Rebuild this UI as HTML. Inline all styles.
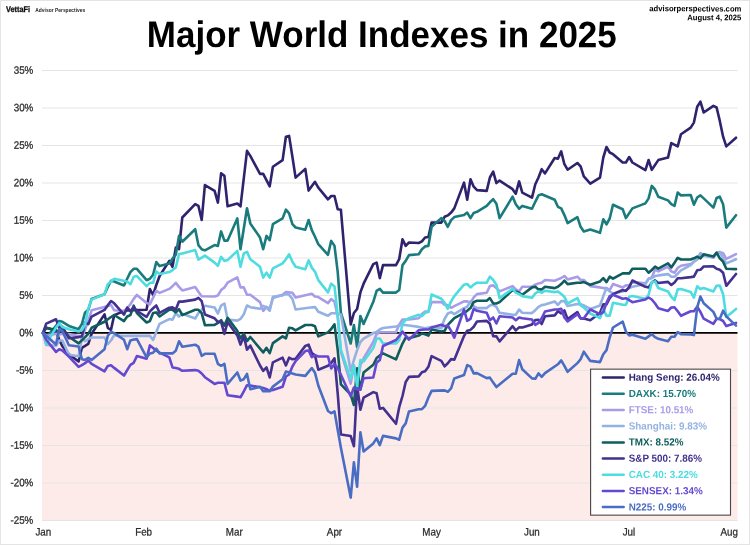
<!DOCTYPE html>
<html lang="en">
<head>
<meta charset="utf-8">
<title>Major World Indexes in 2025</title>
<style>
html,body{margin:0;padding:0;background:#fff;}
body{width:750px;height:545px;overflow:hidden;position:relative;font-family:"Liberation Sans",sans-serif;}
#chart{position:absolute;left:0;top:0;width:750px;height:545px;display:block;}
.frame{position:absolute;left:0;top:0;width:748px;height:543px;border:1px solid #e4e4e4;pointer-events:none;}
text{font-family:"Liberation Sans",sans-serif;}
.title{font-size:35.0px;font-weight:bold;fill:#000;}
.tick{font-size:9.8px;fill:#2b2b2b;stroke:#2b2b2b;stroke-width:0.25px;}
.leg{font-size:9.87px;font-weight:bold;}
.src{font-size:7.68px;font-weight:bold;fill:#000;}
.logo{font-size:8.2px;font-weight:bold;fill:#111;stroke:#111;stroke-width:0.3px;}
.logo2{font-size:5.8px;font-weight:bold;fill:#2a2a2a;}
.ln{fill:none;stroke-width:2.6;stroke-linejoin:round;stroke-linecap:round;}
</style>
</head>
<body>
<svg id="chart" width="750" height="545" viewBox="0 0 750 545">
<rect x="0" y="0" width="750" height="545" fill="#ffffff"/>
<rect x="42.0" y="333.0" width="695.5" height="187.8" fill="#fdebea"/>
<line x1="42.0" y1="70.5" x2="737.5" y2="70.5" stroke="#e5e5e5" stroke-width="1"/>
<line x1="42.0" y1="108.0" x2="737.5" y2="108.0" stroke="#e5e5e5" stroke-width="1"/>
<line x1="42.0" y1="145.5" x2="737.5" y2="145.5" stroke="#e5e5e5" stroke-width="1"/>
<line x1="42.0" y1="183.0" x2="737.5" y2="183.0" stroke="#e5e5e5" stroke-width="1"/>
<line x1="42.0" y1="220.5" x2="737.5" y2="220.5" stroke="#e5e5e5" stroke-width="1"/>
<line x1="42.0" y1="258.0" x2="737.5" y2="258.0" stroke="#e5e5e5" stroke-width="1"/>
<line x1="42.0" y1="295.5" x2="737.5" y2="295.5" stroke="#e5e5e5" stroke-width="1"/>
<line x1="42.0" y1="370.5" x2="737.5" y2="370.5" stroke="#e5e5e5" stroke-width="1"/>
<line x1="42.0" y1="408.0" x2="737.5" y2="408.0" stroke="#e5e5e5" stroke-width="1"/>
<line x1="42.0" y1="445.5" x2="737.5" y2="445.5" stroke="#e5e5e5" stroke-width="1"/>
<line x1="42.0" y1="483.0" x2="737.5" y2="483.0" stroke="#e5e5e5" stroke-width="1"/>
<line x1="42.0" y1="520.5" x2="737.5" y2="520.5" stroke="#e5e5e5" stroke-width="1"/>
<line x1="42.0" y1="332.85" x2="737.5" y2="332.85" stroke="#000" stroke-width="1.7"/>
<polyline class="ln" stroke="#2f236d" points="43.0,333.0 46.2,327.7 56.0,330.8 59.2,339.8 62.4,346.1 68.9,354.4 78.6,361.5 81.9,347.8 88.3,343.8 91.6,333.8 104.5,314.4 107.8,327.8 111.0,329.8 114.2,315.1 124.0,311.1 127.2,310.4 146.6,309.8 149.9,289.0 153.1,295.0 156.3,285.0 159.6,276.0 169.3,260.9 172.5,266.8 175.8,247.6 179.0,249.2 182.3,217.5 195.2,204.2 198.4,205.8 201.7,220.0 204.9,185.1 214.6,190.9 217.9,202.6 221.1,173.4 224.4,175.9 227.6,206.3 237.3,203.5 240.5,206.3 247.0,150.9 250.3,155.9 260.0,173.9 263.2,173.9 269.7,186.3 272.9,166.7 282.6,160.1 285.9,136.7 289.1,135.9 292.4,156.7 295.6,177.6 305.3,168.9 308.6,190.6 315.0,181.8 318.3,187.6 328.0,199.3 331.2,196.0 334.5,196.0 337.7,209.3 340.9,209.8 350.7,324.5 353.9,313.0 357.1,309.0 360.4,292.4 363.6,283.7 373.3,264.2 376.6,262.6 379.8,278.1 383.0,265.1 396.0,265.1 399.2,259.2 402.5,239.2 405.7,245.9 409.0,242.5 418.7,243.0 421.9,241.4 425.1,237.5 428.4,237.0 431.6,222.6 441.3,222.6 444.6,216.8 447.8,215.4 451.1,212.6 454.3,208.4 464.0,182.6 467.2,199.7 470.5,179.2 473.7,186.7 477.0,190.1 486.7,190.9 489.9,177.5 493.2,171.7 496.4,183.1 499.6,180.6 512.6,189.2 515.8,193.7 519.1,181.4 522.3,192.6 532.0,197.6 535.3,184.2 538.5,177.5 541.7,169.2 545.0,173.4 554.7,158.0 557.9,158.7 561.2,151.4 564.4,164.2 567.6,169.7 577.4,163.0 580.6,166.4 583.8,176.4 590.3,183.7 600.0,177.6 603.3,157.5 606.5,147.0 609.7,152.5 613.0,154.2 622.7,162.5 625.9,162.5 629.2,157.0 632.4,162.5 645.4,170.1 648.6,160.0 651.8,169.8 658.3,160.1 668.0,157.6 671.3,143.1 677.7,146.4 681.0,134.2 690.7,127.6 693.9,122.6 697.2,106.7 700.4,101.7 703.7,112.5 713.4,105.9 716.6,107.5 719.8,120.9 723.1,136.7 726.3,146.4 736.0,137.7"/>
<polyline class="ln" stroke="#1a7b7d" points="43.0,333.0 46.2,337.5 56.0,325.9 59.2,321.0 62.4,321.8 68.9,325.9 78.6,329.2 81.9,324.0 85.1,312.4 88.3,309.8 91.6,298.9 104.5,294.2 107.8,286.9 111.0,280.8 114.2,281.5 124.0,285.5 127.2,278.8 130.4,272.1 133.7,268.8 136.9,268.8 146.6,280.2 149.9,278.8 153.1,274.8 156.3,262.1 159.6,266.1 169.3,263.4 172.5,258.7 175.8,254.7 179.0,235.9 182.3,241.7 195.2,229.2 198.4,245.1 201.7,249.2 204.9,250.4 214.6,245.1 217.9,245.9 221.1,231.4 224.4,240.6 227.6,240.6 237.3,218.4 240.5,249.2 247.0,208.3 250.3,223.4 260.0,237.6 263.2,249.2 266.5,235.9 269.7,240.1 272.9,224.2 282.6,218.4 285.9,209.7 289.1,213.4 292.4,224.2 295.6,227.5 305.3,229.7 308.6,220.0 311.8,230.1 315.0,236.7 318.3,244.2 328.0,254.8 331.2,240.9 334.5,245.9 337.7,271.8 340.9,313.0 350.7,343.5 353.9,325.0 357.1,347.0 360.4,316.0 363.6,324.0 373.3,301.8 376.6,290.9 379.8,288.8 383.0,292.6 396.0,292.6 399.2,290.1 402.5,265.1 405.7,260.9 409.0,255.1 418.7,254.2 421.9,249.2 425.1,246.4 428.4,245.9 431.6,226.7 441.3,218.1 444.6,221.0 447.8,226.8 451.1,220.1 454.3,217.1 464.0,215.1 467.2,212.6 470.5,218.1 473.7,212.9 477.0,211.8 486.7,205.9 489.9,202.3 493.2,199.2 496.4,203.8 499.6,218.1 512.6,196.7 515.8,204.3 519.1,208.8 522.3,205.9 532.0,208.8 535.3,201.8 538.5,195.4 541.7,194.2 554.7,199.8 557.9,206.8 561.2,208.4 564.4,215.1 567.6,223.1 577.4,217.1 580.6,226.8 583.8,231.5 590.3,229.6 600.0,232.8 603.3,219.3 606.5,224.3 609.7,218.5 613.0,204.8 622.7,209.3 625.9,218.1 632.4,208.4 645.4,203.4 648.6,198.4 651.8,185.9 655.1,189.7 658.3,196.7 668.0,200.4 671.3,204.2 674.5,205.9 677.7,192.5 681.0,195.4 690.7,195.0 693.9,204.7 697.2,197.5 700.4,195.4 703.7,198.4 713.4,207.6 716.6,198.0 719.8,196.7 723.1,204.2 726.3,227.6 736.0,215.2"/>
<polyline class="ln" stroke="#a99bea" points="43.0,333.0 46.2,336.0 56.0,333.8 59.2,334.5 62.4,333.8 68.9,334.1 78.6,336.0 81.9,338.3 85.1,329.2 88.3,321.0 91.6,310.3 104.5,306.9 107.8,306.3 111.0,304.9 114.2,310.3 124.0,311.0 127.2,308.3 130.4,304.3 133.7,298.9 136.9,294.9 146.6,302.9 149.9,304.3 153.1,297.6 156.3,290.9 159.6,292.9 169.3,288.9 172.5,286.2 175.8,282.8 179.0,286.9 182.3,290.4 195.2,287.0 198.4,291.7 201.7,296.2 214.6,296.5 217.9,295.4 221.1,290.1 224.4,287.4 227.6,282.7 237.3,277.4 240.5,287.4 243.8,287.4 247.0,294.8 250.3,294.8 260.0,302.1 263.2,310.8 266.5,306.8 269.7,308.8 272.9,298.1 282.6,294.8 285.9,292.1 292.4,292.8 295.6,297.4 311.8,293.7 315.0,296.4 318.3,297.1 328.0,303.1 331.2,299.1 334.5,301.8 337.7,316.5 340.9,351.8 350.7,383.6 353.9,365.2 357.1,385.5 360.4,365.2 363.6,358.5 373.3,342.0 376.6,334.1 379.8,332.2 383.0,332.2 396.0,332.2 399.2,324.8 402.5,319.5 405.7,319.5 409.0,319.5 418.7,318.2 421.9,314.1 425.1,311.5 428.4,311.5 431.6,302.1 441.3,302.1 444.6,304.8 447.8,305.4 451.1,307.8 454.3,306.1 464.0,301.4 467.2,301.4 470.5,302.8 473.7,297.4 477.0,294.1 486.7,292.7 489.9,286.0 493.2,285.4 496.4,288.0 499.6,291.4 512.6,286.1 515.8,289.4 519.1,291.4 522.3,286.7 532.0,286.7 535.3,284.7 538.5,283.4 541.7,282.7 545.0,280.0 554.7,280.7 557.9,279.4 561.2,278.0 564.4,276.0 567.6,279.4 577.4,276.7 580.6,280.0 583.8,280.0 590.3,286.1 600.0,287.4 603.3,288.1 606.5,288.1 609.7,290.1 613.0,284.1 622.7,287.4 625.9,285.4 629.2,285.4 632.4,282.1 645.4,283.4 648.6,278.7 651.8,277.4 655.1,269.4 658.3,271.4 668.0,266.7 671.3,271.4 674.5,272.7 677.7,268.0 681.0,265.7 690.7,264.0 693.9,261.7 697.2,259.5 700.4,253.2 703.7,254.9 713.4,257.8 716.6,253.2 719.8,252.1 723.1,253.2 726.3,258.9 736.0,254.2"/>
<polyline class="ln" stroke="#93b2e3" points="43.0,333.0 46.2,345.0 56.0,345.8 59.2,340.5 62.4,340.5 68.9,354.8 78.6,356.2 81.9,338.3 85.1,341.2 88.3,339.0 91.6,337.5 104.5,337.5 107.8,344.2 111.0,340.5 114.2,335.2 124.0,336.0 127.2,335.9 149.9,335.9 153.1,339.9 156.3,331.9 159.6,323.8 169.3,319.1 172.5,319.8 175.8,313.1 179.0,316.5 182.3,313.8 195.2,318.5 198.4,313.1 201.7,309.8 204.9,305.7 214.6,307.5 217.9,313.5 221.1,305.5 224.4,303.5 227.6,319.5 237.3,320.6 240.5,318.9 243.8,314.2 247.0,305.5 250.3,307.2 260.0,308.8 263.2,305.9 266.5,307.5 269.7,310.8 272.9,296.8 282.6,295.4 285.9,294.1 289.1,294.8 292.4,298.8 295.6,309.5 308.6,307.8 315.0,307.1 318.3,311.8 328.0,315.8 331.2,313.2 334.5,313.2 337.7,313.8 340.9,314.5 350.7,371.2 353.9,360.0 357.1,350.2 360.4,342.0 363.6,338.6 373.3,333.0 376.6,331.9 379.8,329.5 383.0,328.0 396.0,326.5 399.2,325.5 402.5,324.8 409.0,325.5 418.7,326.9 425.1,328.2 431.6,326.9 441.3,328.2 444.6,318.8 447.8,313.5 451.1,312.1 454.3,314.1 464.0,308.1 467.2,306.8 470.5,301.4 473.7,306.1 477.0,308.1 486.7,308.1 489.9,305.4 493.2,304.8 496.4,306.8 499.6,312.8 512.6,314.8 515.8,314.8 519.1,309.5 522.3,312.8 532.0,313.1 535.3,310.2 538.5,306.8 541.7,305.1 545.0,304.5 554.7,301.5 557.9,304.8 561.2,301.1 564.4,301.1 567.6,306.1 577.4,304.1 580.6,304.1 583.8,305.5 590.3,308.9 600.0,305.5 603.3,296.1 606.5,288.1 609.7,291.5 613.0,293.5 622.7,291.5 625.9,290.1 629.2,288.1 632.4,286.8 645.4,284.1 648.6,278.7 651.8,278.1 655.1,276.1 658.3,275.4 668.0,274.1 671.3,276.7 674.5,276.7 677.7,273.7 681.0,270.3 690.7,265.1 693.9,261.7 697.2,259.5 700.4,254.3 703.7,256.0 713.4,256.6 716.6,253.2 719.8,252.1 723.1,258.3 726.3,263.4 736.0,259.3"/>
<polyline class="ln" stroke="#0f5d5d" points="43.0,333.0 46.2,327.7 56.0,330.0 59.2,332.2 62.4,328.5 68.9,336.8 78.6,343.4 85.1,337.1 88.3,333.8 91.6,327.8 104.5,321.7 111.0,317.0 114.2,315.0 124.0,321.1 127.2,316.5 130.4,315.1 133.7,305.7 136.9,313.1 146.6,322.5 149.9,321.1 153.1,313.1 156.3,312.4 159.6,316.5 169.3,309.8 172.5,309.8 175.8,312.4 179.0,309.1 182.3,315.1 195.2,309.8 198.4,309.8 201.7,313.1 204.9,325.2 214.6,324.9 217.9,322.9 221.1,320.2 224.4,325.6 227.6,317.9 237.3,330.9 240.5,338.4 243.8,333.7 247.0,341.1 250.3,337.0 263.2,352.4 266.5,347.8 269.7,353.1 272.9,343.1 282.6,336.4 285.9,338.4 289.1,327.7 292.4,328.3 295.6,330.4 305.3,325.0 311.8,325.0 315.0,326.3 318.3,336.4 328.0,332.4 331.2,329.0 334.5,324.3 337.7,349.9 340.9,384.4 350.7,394.5 353.9,405.0 357.1,368.2 360.4,389.6 363.6,372.4 373.3,364.8 376.6,358.1 379.8,355.4 383.0,353.4 396.0,359.4 399.2,351.4 402.5,343.6 405.7,337.6 409.0,338.2 418.7,335.6 421.9,333.5 425.1,334.2 428.4,335.6 431.6,329.5 441.3,331.5 444.6,330.9 447.8,324.8 451.1,321.5 454.3,318.2 464.0,312.8 467.2,310.8 470.5,308.1 473.7,302.1 477.0,300.7 486.7,300.7 489.9,298.1 493.2,303.4 496.4,303.5 499.6,302.1 512.6,290.1 515.8,291.4 519.1,292.8 522.3,294.8 532.0,287.4 535.3,286.7 538.5,289.4 541.7,289.4 545.0,286.7 554.7,288.1 557.9,286.7 561.2,284.1 564.4,280.7 567.6,284.1 577.4,282.7 580.6,282.8 583.8,282.1 590.3,284.8 600.0,281.4 603.3,278.1 606.5,282.1 609.7,276.7 613.0,278.7 622.7,273.4 625.9,273.4 629.2,273.4 632.4,268.7 645.4,268.7 648.6,272.7 651.8,270.0 655.1,266.7 658.3,268.7 668.0,263.3 671.3,267.4 674.5,262.7 677.7,257.8 681.0,259.5 690.7,259.5 693.9,258.3 697.2,256.6 700.4,258.3 703.7,254.3 713.4,256.6 716.6,252.6 719.8,258.3 723.1,261.7 726.3,268.8 736.0,269.1"/>
<polyline class="ln" stroke="#43308f" points="43.0,333.0 46.2,323.6 56.0,319.3 59.2,327.8 62.4,326.6 68.9,338.3 78.6,337.1 81.9,336.3 85.1,322.6 88.3,324.2 91.6,316.6 104.5,309.9 107.8,305.2 111.0,301.0 114.2,303.3 124.0,314.6 127.2,307.5 130.4,311.2 133.7,307.1 136.9,311.0 146.6,316.9 149.9,311.4 153.1,308.3 156.3,305.5 159.6,312.9 169.3,307.7 172.5,307.4 175.8,309.6 179.0,301.5 182.3,301.6 195.2,299.6 198.4,297.8 201.7,301.2 204.9,314.5 214.6,318.3 217.9,321.9 221.1,321.8 224.4,333.9 227.6,322.0 237.3,335.4 240.5,344.6 243.8,336.3 247.0,349.6 250.3,345.6 260.0,365.5 263.2,370.9 266.5,367.4 269.7,377.4 272.9,362.3 282.6,357.7 285.9,365.4 289.1,357.7 292.4,359.3 295.6,358.7 305.3,345.9 308.6,344.7 311.8,353.0 315.0,355.4 318.3,369.8 328.0,365.8 331.2,363.1 334.5,358.3 337.7,393.3 340.9,434.5 350.7,436.0 353.9,446.2 357.1,385.6 360.4,409.7 363.6,397.6 373.3,392.1 376.6,393.3 379.8,408.8 383.0,407.9 396.0,423.8 399.2,407.2 402.5,396.0 405.7,382.0 409.0,376.9 418.7,376.4 421.9,372.3 425.1,371.3 428.4,366.8 431.6,356.2 441.3,360.9 444.6,366.4 447.8,363.3 451.1,359.1 454.3,359.7 464.0,336.1 467.2,330.7 470.5,329.9 473.7,326.8 477.0,321.5 486.7,320.9 489.9,323.8 493.2,336.1 496.4,336.4 499.6,341.4 512.6,326.2 515.8,330.4 519.1,327.4 522.3,327.5 532.0,324.4 535.3,320.0 538.5,319.9 541.7,324.0 545.0,316.2 554.7,315.4 557.9,311.2 561.2,313.4 564.4,310.4 567.6,319.1 577.4,312.0 580.6,318.4 583.8,318.6 590.3,320.3 600.0,313.0 603.3,304.4 606.5,304.4 609.7,298.2 613.0,294.1 622.7,290.0 625.9,290.9 629.2,287.1 632.4,280.5 645.4,286.8 648.6,287.4 651.8,282.6 655.1,280.4 658.3,283.0 668.0,281.9 671.3,285.0 674.5,282.5 677.7,278.2 681.0,278.3 690.7,277.1 693.9,276.6 697.2,270.3 700.4,269.8 703.7,266.5 713.4,266.4 716.6,268.8 719.8,269.8 723.1,272.8 726.3,285.8 736.0,274.0"/>
<polyline class="ln" stroke="#4edce0" points="43.0,333.0 46.2,344.2 56.0,327.7 59.2,323.2 62.4,327.0 68.9,329.2 78.6,331.5 81.9,330.0 85.1,324.8 88.3,308.6 91.6,299.6 104.5,294.2 107.8,284.2 114.2,278.8 127.2,281.5 130.4,284.2 133.7,276.8 136.9,276.1 146.6,286.2 149.9,282.8 153.1,282.8 156.3,271.5 159.6,274.1 169.3,272.1 172.5,270.1 175.8,267.4 179.0,254.3 182.3,253.4 195.2,250.1 198.4,259.6 201.7,257.6 204.9,255.6 214.6,262.6 217.9,265.9 221.1,256.8 224.4,260.9 227.6,260.1 237.3,250.9 240.5,266.8 243.8,253.4 247.0,251.8 250.3,259.3 260.0,266.8 263.2,277.6 266.5,272.6 269.7,277.6 272.9,268.4 282.6,263.4 285.9,259.3 289.1,254.3 292.4,261.8 295.6,266.8 305.3,269.3 308.6,260.4 311.8,267.6 315.0,271.8 318.3,280.1 328.0,292.4 331.2,283.7 334.5,286.4 337.7,315.2 340.9,350.0 350.7,378.8 353.9,365.4 357.1,386.2 360.4,360.1 363.6,361.4 373.3,348.0 376.6,338.5 379.8,338.5 383.0,343.5 396.0,343.5 399.2,340.2 402.5,323.5 405.7,320.2 409.0,318.2 418.7,314.8 421.9,316.1 425.1,312.8 428.4,312.1 431.6,294.5 441.3,298.7 444.6,302.8 447.8,308.8 451.1,301.4 454.3,296.1 464.0,284.7 467.2,284.0 470.5,287.4 473.7,284.7 477.0,282.7 486.7,282.7 489.9,276.7 493.2,280.0 496.4,284.7 499.6,298.1 512.6,288.7 515.8,292.8 519.1,294.1 522.3,296.1 532.0,297.8 535.3,293.4 538.5,291.4 541.7,292.8 545.0,290.7 554.7,292.1 557.9,291.4 561.2,294.1 564.4,296.8 567.6,303.5 577.4,298.1 580.6,305.5 583.8,307.5 590.3,313.5 600.0,318.2 603.3,309.5 606.5,315.6 609.7,315.6 613.0,302.8 622.7,304.8 625.9,304.8 629.2,296.8 632.4,296.1 645.4,298.8 648.6,294.8 651.8,282.1 655.1,281.4 658.3,288.1 668.0,291.5 671.3,296.8 674.5,300.2 677.7,289.3 681.0,289.1 690.7,291.9 693.9,297.6 697.2,286.3 700.4,289.1 703.7,288.0 713.4,291.4 716.6,285.7 719.8,285.5 723.1,294.2 726.3,317.0 736.0,308.9"/>
<polyline class="ln" stroke="#6448d0" points="43.0,333.0 46.2,339.8 56.0,351.9 59.2,349.2 62.4,350.5 68.9,356.5 78.6,366.8 81.9,365.2 85.1,363.2 88.3,360.6 91.6,363.9 104.5,371.3 107.8,365.9 111.0,365.2 114.2,367.9 124.0,375.5 127.2,370.1 130.4,364.8 133.7,362.8 136.9,356.1 146.6,358.7 149.9,345.4 153.1,348.0 156.3,350.7 159.6,352.7 169.3,357.4 172.5,367.4 175.8,368.1 179.0,368.8 182.3,370.8 195.2,370.1 198.4,370.8 201.7,373.5 204.9,377.2 214.6,383.9 217.9,382.8 221.1,382.8 224.4,382.8 227.6,395.3 237.3,396.6 240.5,397.3 243.8,391.3 247.0,385.2 250.3,385.5 260.0,387.2 263.2,387.9 266.5,389.3 269.7,390.6 272.9,389.9 282.6,386.8 285.9,376.5 289.1,374.5 292.4,366.5 295.6,361.1 305.3,351.1 308.6,350.4 311.8,357.1 315.0,355.1 318.3,356.5 328.0,356.5 331.2,368.5 334.5,364.1 337.7,368.1 340.9,374.8 350.7,396.2 353.9,387.5 357.1,389.5 360.4,389.5 363.6,378.2 373.3,377.5 376.6,362.8 379.8,360.1 383.0,346.0 396.0,340.0 399.2,336.2 402.5,331.5 405.7,335.6 409.0,339.6 418.7,330.2 421.9,329.8 425.1,329.5 428.4,329.5 431.6,327.5 441.3,324.8 444.6,326.2 447.8,325.5 451.1,330.9 454.3,337.6 464.0,309.5 467.2,320.8 470.5,318.8 473.7,308.8 477.0,310.8 486.7,312.8 489.9,320.2 493.2,317.5 496.4,323.5 499.6,316.2 512.6,317.5 515.8,320.2 519.1,317.5 522.3,318.2 532.0,319.5 535.3,324.9 538.5,322.9 541.7,318.2 545.0,311.5 554.7,309.5 557.9,309.5 561.2,308.8 564.4,317.5 567.6,321.5 577.4,314.2 580.6,318.2 583.8,318.2 590.3,309.5 600.0,314.2 603.3,312.2 606.5,302.8 609.7,296.1 613.0,294.8 622.7,298.8 625.9,298.2 629.2,300.2 632.4,302.2 645.4,299.5 648.6,297.5 651.8,299.5 655.1,303.5 658.3,308.2 668.0,310.9 671.3,307.5 674.5,307.3 677.7,311.3 681.0,315.8 690.7,311.3 693.9,311.3 697.2,306.7 700.4,311.9 703.7,318.7 713.4,323.8 716.6,318.7 719.8,319.2 723.1,321.0 726.3,326.1 736.0,322.9"/>
<polyline class="ln" stroke="#4a6dc4" points="43.0,333.0 56.0,344.5 59.2,329.1 62.4,331.1 68.9,345.2 78.6,346.5 81.9,359.2 85.1,359.9 88.3,357.9 91.6,359.9 104.5,349.2 107.8,335.8 111.0,331.8 114.2,333.1 124.0,339.8 127.2,349.2 130.4,340.5 133.7,339.5 136.9,339.1 146.6,357.4 149.9,353.4 153.1,352.7 156.3,348.7 159.6,353.4 169.3,353.4 172.5,353.4 175.8,350.7 179.0,341.3 182.3,346.7 195.2,344.7 198.4,346.7 201.7,355.8 204.9,353.8 214.6,353.8 217.9,363.8 221.1,365.8 224.4,363.8 227.6,383.9 237.3,372.5 240.5,380.6 243.8,379.2 247.0,373.9 250.3,389.3 260.0,386.8 263.2,391.3 266.5,391.3 269.7,391.3 272.9,386.6 282.6,379.2 285.9,371.6 289.1,372.5 292.4,373.5 295.6,374.5 305.3,375.9 308.6,371.9 311.8,368.1 315.0,372.8 318.3,385.5 328.0,411.0 331.2,413.2 334.5,411.4 337.7,429.8 340.9,447.8 350.7,497.6 353.9,462.4 357.1,486.8 360.4,432.4 363.6,451.5 373.3,443.4 376.6,438.4 379.8,445.1 383.0,435.9 396.0,438.4 399.2,439.7 402.5,427.6 405.7,423.4 409.0,411.4 418.7,409.2 421.9,409.2 425.1,405.9 428.4,397.5 431.6,390.9 444.6,390.4 447.8,391.8 451.1,388.4 454.3,378.4 464.0,375.1 467.2,365.1 470.5,366.7 473.7,373.4 477.0,373.1 486.7,378.1 489.9,377.6 493.2,382.6 496.4,387.1 512.6,373.7 515.8,373.7 519.1,360.1 522.3,369.3 532.0,378.4 535.3,378.8 538.5,373.4 541.7,376.8 545.0,373.1 557.9,364.3 561.2,360.4 564.4,365.9 567.6,371.8 577.4,363.1 580.6,359.2 583.8,351.7 590.3,360.9 600.0,362.1 603.3,354.2 606.5,350.1 609.7,337.5 613.0,327.5 622.7,321.7 625.9,331.5 629.2,335.5 632.4,334.8 645.4,338.8 648.6,336.4 651.8,334.1 655.1,337.2 658.3,338.8 668.0,341.2 671.3,336.8 674.5,336.8 677.7,332.1 681.0,334.1 690.7,334.4 693.9,335.1 697.2,307.3 700.4,296.5 703.7,303.3 713.4,311.9 716.6,318.7 719.8,318.7 723.1,310.7 726.3,316.4 736.0,325.6"/>
<text class="tick" transform="translate(33.30,73.80) rotate(0.03) scale(1.0000,1.1000)" text-anchor="end">35%</text>
<text class="tick" transform="translate(33.30,111.30) rotate(0.03) scale(1.0000,1.1000)" text-anchor="end">30%</text>
<text class="tick" transform="translate(33.30,148.80) rotate(0.03) scale(1.0000,1.1000)" text-anchor="end">25%</text>
<text class="tick" transform="translate(33.30,186.30) rotate(0.03) scale(1.0000,1.1000)" text-anchor="end">20%</text>
<text class="tick" transform="translate(33.30,223.80) rotate(0.03) scale(1.0000,1.1000)" text-anchor="end">15%</text>
<text class="tick" transform="translate(33.30,261.30) rotate(0.03) scale(1.0000,1.1000)" text-anchor="end">10%</text>
<text class="tick" transform="translate(33.30,298.80) rotate(0.03) scale(1.0000,1.1000)" text-anchor="end">5%</text>
<text class="tick" transform="translate(33.30,336.30) rotate(0.03) scale(1.0000,1.1000)" text-anchor="end">0%</text>
<text class="tick" transform="translate(33.30,373.80) rotate(0.03) scale(1.0000,1.1000)" text-anchor="end">-5%</text>
<text class="tick" transform="translate(33.30,411.30) rotate(0.03) scale(1.0000,1.1000)" text-anchor="end">-10%</text>
<text class="tick" transform="translate(33.30,448.80) rotate(0.03) scale(1.0000,1.1000)" text-anchor="end">-15%</text>
<text class="tick" transform="translate(33.30,486.30) rotate(0.03) scale(1.0000,1.1000)" text-anchor="end">-20%</text>
<text class="tick" transform="translate(33.30,523.80) rotate(0.03) scale(1.0000,1.1000)" text-anchor="end">-25%</text>
<text class="tick" transform="translate(43.30,535.50) rotate(0.03) scale(1.0000,1.1000)" text-anchor="middle">Jan</text>
<text class="tick" transform="translate(143.60,535.50) rotate(0.03) scale(1.0000,1.1000)" text-anchor="middle">Feb</text>
<text class="tick" transform="translate(234.20,535.50) rotate(0.03) scale(1.0000,1.1000)" text-anchor="middle">Mar</text>
<text class="tick" transform="translate(334.50,535.50) rotate(0.03) scale(1.0000,1.1000)" text-anchor="middle">Apr</text>
<text class="tick" transform="translate(431.57,535.50) rotate(0.03) scale(1.0000,1.1000)" text-anchor="middle">May</text>
<text class="tick" transform="translate(531.88,535.50) rotate(0.03) scale(1.0000,1.1000)" text-anchor="middle">Jun</text>
<text class="tick" transform="translate(628.94,535.50) rotate(0.03) scale(1.0000,1.1000)" text-anchor="middle">Jul</text>
<text class="tick" transform="translate(729.25,535.50) rotate(0.03) scale(1.0000,1.1000)" text-anchor="middle">Aug</text>
<rect x="590.6" y="369.15" width="139.9" height="146" fill="#fff" stroke="#4a4646" stroke-width="1.1"/>
<line x1="602.9" y1="377.6" x2="623.7" y2="377.6" stroke="#2f236d" stroke-width="2.5" stroke-linecap="round"/>
<text class="leg" transform="translate(628.70,380.80) rotate(0.03) scale(1.0000,1.0500)" text-anchor="start" fill="#2f236d">Hang Seng: 26.04%</text>
<line x1="602.9" y1="393.8" x2="623.7" y2="393.8" stroke="#1a7b7d" stroke-width="2.5" stroke-linecap="round"/>
<text class="leg" transform="translate(628.70,397.00) rotate(0.03) scale(1.0000,1.0500)" text-anchor="start" fill="#1a7b7d">DAXK: 15.70%</text>
<line x1="602.9" y1="409.9" x2="623.7" y2="409.9" stroke="#a99bea" stroke-width="2.5" stroke-linecap="round"/>
<text class="leg" transform="translate(628.70,413.20) rotate(0.03) scale(1.0000,1.0500)" text-anchor="start" fill="#a99bea">FTSE: 10.51%</text>
<line x1="602.9" y1="426.1" x2="623.7" y2="426.1" stroke="#93b2e3" stroke-width="2.5" stroke-linecap="round"/>
<text class="leg" transform="translate(628.70,429.40) rotate(0.03) scale(1.0000,1.0500)" text-anchor="start" fill="#93b2e3">Shanghai: 9.83%</text>
<line x1="602.9" y1="442.4" x2="623.7" y2="442.4" stroke="#0f5d5d" stroke-width="2.5" stroke-linecap="round"/>
<text class="leg" transform="translate(628.70,445.60) rotate(0.03) scale(1.0000,1.0500)" text-anchor="start" fill="#0f5d5d">TMX: 8.52%</text>
<line x1="602.9" y1="458.6" x2="623.7" y2="458.6" stroke="#43308f" stroke-width="2.5" stroke-linecap="round"/>
<text class="leg" transform="translate(628.70,461.80) rotate(0.03) scale(1.0000,1.0500)" text-anchor="start" fill="#43308f">S&amp;P 500: 7.86%</text>
<line x1="602.9" y1="474.8" x2="623.7" y2="474.8" stroke="#4edce0" stroke-width="2.5" stroke-linecap="round"/>
<text class="leg" transform="translate(628.70,478.00) rotate(0.03) scale(1.0000,1.0500)" text-anchor="start" fill="#4edce0">CAC 40: 3.22%</text>
<line x1="602.9" y1="490.9" x2="623.7" y2="490.9" stroke="#6448d0" stroke-width="2.5" stroke-linecap="round"/>
<text class="leg" transform="translate(628.70,494.20) rotate(0.03) scale(1.0000,1.0500)" text-anchor="start" fill="#6448d0">SENSEX: 1.34%</text>
<line x1="602.9" y1="507.1" x2="623.7" y2="507.1" stroke="#4a6dc4" stroke-width="2.5" stroke-linecap="round"/>
<text class="leg" transform="translate(628.70,510.40) rotate(0.03) scale(1.0000,1.0500)" text-anchor="start" fill="#4a6dc4">N225: 0.99%</text>
<text class="title" transform="translate(381.80,47.10) rotate(0.03) scale(1.0000,1.0550)" text-anchor="middle">Major World Indexes in 2025</text>
<text class="src" transform="translate(741.40,11.40) rotate(0.03) scale(1.0000,1.0600)" text-anchor="end">advisorperspectives.com</text>
<text class="src" transform="translate(741.40,20.30) rotate(0.03) scale(1.0000,1.0600)" text-anchor="end">August 4, 2025</text>
<text class="logo" transform="translate(6,12.1) rotate(0.03)" textLength="24" lengthAdjust="spacingAndGlyphs">VettaFi</text>
<text class="logo2" transform="translate(35.3,12.1) rotate(0.03)" textLength="50" lengthAdjust="spacingAndGlyphs">Advisor Perspectives</text>
</svg>
<div class="frame"></div>
</body>
</html>
